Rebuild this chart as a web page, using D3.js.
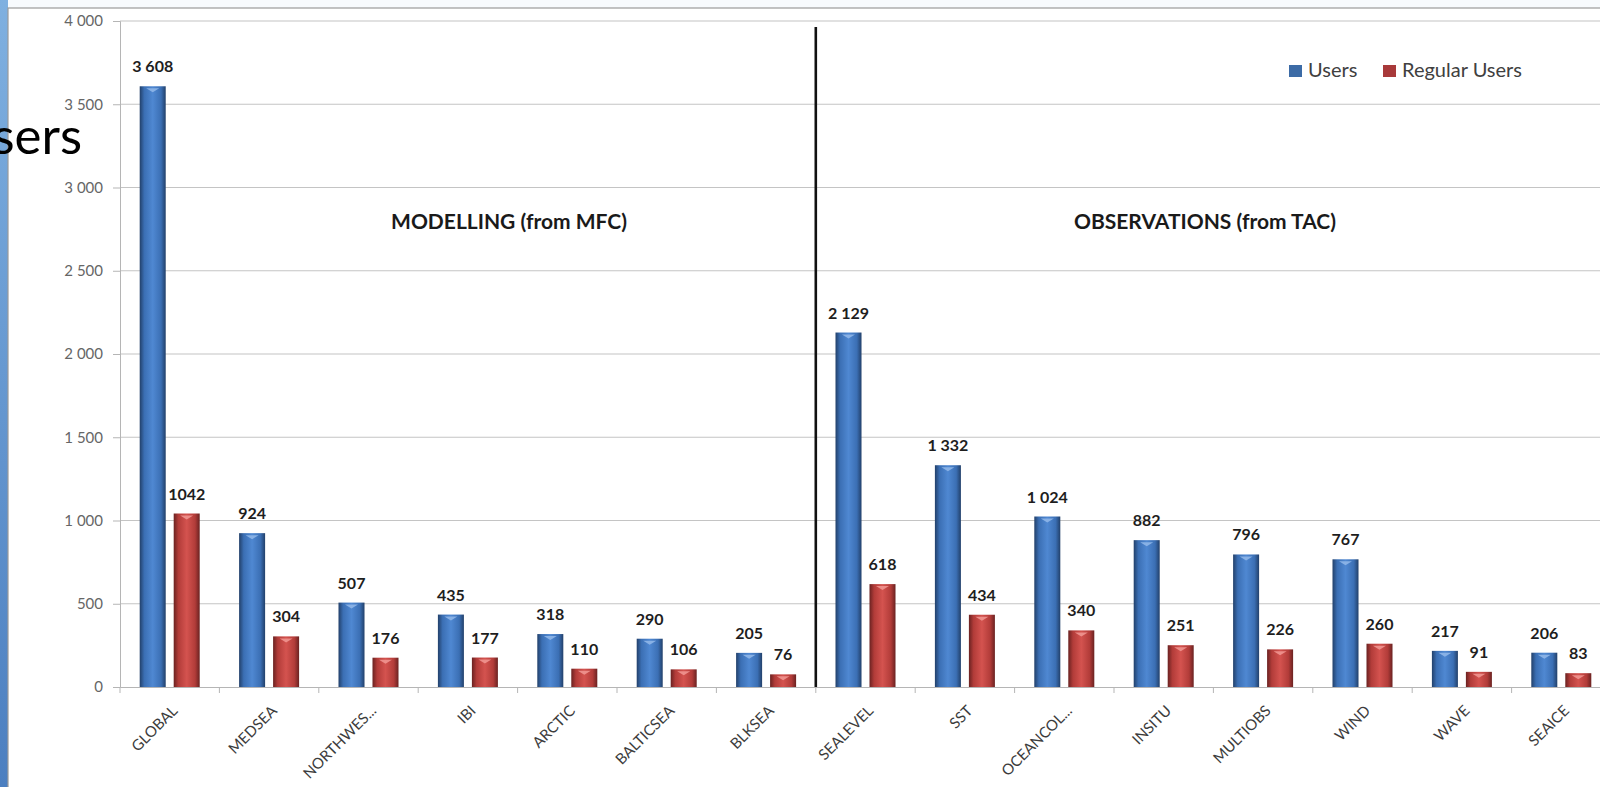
<!DOCTYPE html>
<html>
<head>
<meta charset="utf-8">
<script src="https://cdn.jsdelivr.net/npm/d3@7"></script>
<style>
  body { margin: 0; background: #fff; }
  svg { display: block; font-family: Lato, "Open Sans", sans-serif; }
</style>
</head>
<body>
<svg class="chart"></svg>
<script>
// data
var categories = ["GLOBAL", "MEDSEA", "NORTHWES...", "IBI", "ARCTIC", "BALTICSEA", "BLKSEA",
                  "SEALEVEL", "SST", "OCEANCOL...", "INSITU", "MULTIOBS", "WIND", "WAVE", "SEAICE"];
var users        = [3608, 924, 507, 435, 318, 290, 205, 2129, 1332, 1024, 882, 796, 767, 217, 206];
var regularUsers = [1042, 304, 176, 177, 110, 106, 76, 618, 434, 340, 251, 226, 260, 91, 83];
var seriesNames  = ["Users", "Regular Users"];
var yTicks       = [0, 500, 1000, 1500, 2000, 2500, 3000, 3500, 4000];
var groupTitles  = ["MODELLING (from MFC)", "OBSERVATIONS (from TAC)"];
var firstObsCategory = "SEALEVEL";

var W = 1600, H = 787;
var margin = {top: 21, left: 120, bottom: 100};
var plotRight = 1611; // the picture is cut at the right edge

var svg = d3.select(".chart")
    .attr("width", W)
    .attr("height", H);

//gradients for the bars (cylinder look)
var defs = svg.append("defs");
function barGradient(id, edge, mid, light){
    var g = defs.append("linearGradient").attr("id", id)
        .attr("x1", "0%").attr("x2", "100%").attr("y1", "0%").attr("y2", "0%");
    g.append("stop").attr("offset", "0%").attr("stop-color", edge);
    g.append("stop").attr("offset", "18%").attr("stop-color", mid);
    g.append("stop").attr("offset", "50%").attr("stop-color", light);
    g.append("stop").attr("offset", "82%").attr("stop-color", mid);
    g.append("stop").attr("offset", "100%").attr("stop-color", edge);
}
barGradient("gBlue", "#22406a", "#3b6fb4", "#4f88d2");
barGradient("gRed", "#6a2221", "#b23c39", "#d4534f");
var side = defs.append("linearGradient").attr("id", "gSide")
    .attr("x1", "0%").attr("x2", "0%").attr("y1", "0%").attr("y2", "100%");
side.append("stop").attr("offset", "0%").attr("stop-color", "#7fb0e0");
side.append("stop").attr("offset", "100%").attr("stop-color", "#4c7fc0");

//slide background pieces around the chart box
svg.append("rect").attr("x", 0).attr("y", 0).attr("width", W).attr("height", H).attr("fill", "#f7fafd");
svg.append("rect").attr("x", 0).attr("y", 0).attr("width", 8).attr("height", H).attr("fill", "url(#gSide)");
svg.append("rect")
    .attr("x", 8).attr("y", 8).attr("width", W).attr("height", H - 4)
    .attr("fill", "#fff")
    .attr("stroke", "#9a9a9a")
    .attr("stroke-width", 1.2);

//scales
var x0 = d3.scaleBand()
    .domain(categories)
    .range([margin.left, plotRight]);

var x1 = d3.scaleBand()
    .domain(seriesNames)
    .range([x0.bandwidth() / 2 - 30, x0.bandwidth() / 2 + 30])
    .paddingInner(0.235);

var y = d3.scaleLinear()
    .domain([0, 4000])
    .range([H - margin.bottom, margin.top]);

//grid lines
svg.append("g")
    .selectAll("line")
    .data(yTicks.slice(1))
    .enter().append("line")
    .attr("x1", margin.left).attr("x2", plotRight)
    .attr("y1", function(d){ return y(d); })
    .attr("y2", function(d){ return y(d); })
    .attr("stroke", "#c4c4c4")
    .attr("stroke-width", 1.2);

//left axis
var fmtSpace = d3.formatLocale({decimal: ",", thousands: " ", grouping: [3], currency: ["", ""]}).format(",d");
var yAxis = d3.axisLeft(y).tickValues(yTicks).tickFormat(fmtSpace).tickSize(7).tickPadding(10);
var gy = svg.append("g")
    .attr("transform", "translate(" + margin.left + ",0)")
    .call(yAxis)
    .attr("font-family", null)
    .attr("font-size", null);
gy.select(".domain").attr("stroke", "#b5b5b5");
gy.selectAll(".tick line").attr("stroke", "#b5b5b5");
gy.selectAll("text")
    .attr("fill", "#666")
    .style("font-size", "15px");

//bottom axis
var xAxis = d3.axisBottom(x0).tickSize(0).tickPadding(0);
var gx = svg.append("g")
    .attr("transform", "translate(0," + y(0) + ")")
    .call(xAxis)
    .attr("font-family", null)
    .attr("font-size", null);
gx.select(".domain").attr("stroke", "#b5b5b5").attr("stroke-width", 1.2);
gx.selectAll(".tick text")
    .attr("fill", "#3c3c3c")
    .style("font-size", "15px")
    .style("text-anchor", "end")
    .attr("dy", ".35em")
    .attr("y", 0)
    .attr("transform", "translate(5,21) rotate(-45)");

//small tick marks between categories
svg.append("g")
    .selectAll("line")
    .data(categories)
    .enter().append("line")
    .attr("x1", function(d){ return x0(d); })
    .attr("x2", function(d){ return x0(d); })
    .attr("y1", y(0)).attr("y2", y(0) + 6)
    .attr("stroke", "#b5b5b5");

//bars
var rows = categories.map(function(c, i){
    return {cat: c, vals: [
        {name: seriesNames[0], value: users[i], label: fmtSpace(users[i]), fill: "url(#gBlue)", cap: "#8fb6e8"},
        {name: seriesNames[1], value: regularUsers[i], label: d3.format("d")(regularUsers[i]), fill: "url(#gRed)", cap: "#f09590"}
    ]};
});

var groups = svg.append("g")
    .selectAll("g")
    .data(rows)
    .enter().append("g")
    .attr("transform", function(d){ return "translate(" + x0(d.cat) + ",0)"; });

var bars = groups.selectAll("g")
    .data(function(d){ return d.vals; })
    .enter().append("g");

bars.append("rect")
    .attr("x", function(d){ return x1(d.name); })
    .attr("y", function(d){ return y(d.value); })
    .attr("width", x1.bandwidth())
    .attr("height", function(d){ return y(0) - y(d.value); })
    .attr("fill", function(d){ return d.fill; });

//light cap on the top of each bar
bars.append("path")
    .attr("d", function(d){
        var bx = x1(d.name), by = y(d.value), w = x1.bandwidth();
        return "M" + (bx + w * 0.25) + "," + (by + 2) + "L" + (bx + w * 0.75) + "," + (by + 2) +
               "L" + (bx + w * 0.5) + "," + (by + 6) + "Z";
    })
    .attr("fill", function(d){ return d.cap; })
    .attr("opacity", 0.9);

//value labels
bars.append("text")
    .attr("x", function(d){ return x1(d.name) + x1.bandwidth() / 2; })
    .attr("y", function(d){ return y(d.value) - 14; })
    .attr("text-anchor", "middle")
    .attr("fill", "#1e1e1e")
    .style("font-size", "16px")
    .style("font-weight", "bold")
    .text(function(d){ return d.label; });

//divider between the two groups
svg.append("line")
    .attr("x1", x0(firstObsCategory)).attr("x2", x0(firstObsCategory))
    .attr("y1", 27).attr("y2", y(0))
    .attr("stroke", "#111")
    .attr("stroke-width", 2.6);

//group titles
svg.append("text")
    .attr("x", 509).attr("y", 229)
    .attr("text-anchor", "middle")
    .attr("fill", "#1a1a1a")
    .style("font-size", "21px").style("font-weight", "bold")
    .text(groupTitles[0]);
svg.append("text")
    .attr("x", 1205).attr("y", 229)
    .attr("text-anchor", "middle")
    .attr("fill", "#1a1a1a")
    .style("font-size", "21px").style("font-weight", "bold")
    .text(groupTitles[1]);

//legend
var legend = svg.append("g").attr("transform", "translate(1289,65)");
var legendX = [0, 94];
var legendFill = ["#3c6ba6", "#a8393a"];
seriesNames.forEach(function(s, i){
    legend.append("rect")
        .attr("x", legendX[i]).attr("y", 0)
        .attr("width", 13).attr("height", 12)
        .attr("fill", legendFill[i]);
    legend.append("text")
        .attr("x", legendX[i] + 19).attr("y", 12)
        .attr("fill", "#404040")
        .style("font-size", "20px")
        .text(s);
});

//slide title fragment behind the chart
svg.append("text")
    .attr("x", 82).attr("y", 154)
    .attr("text-anchor", "end")
    .attr("fill", "#000")
    .style("font-size", "51px")
    .text("users");
</script>
</body>
</html>
